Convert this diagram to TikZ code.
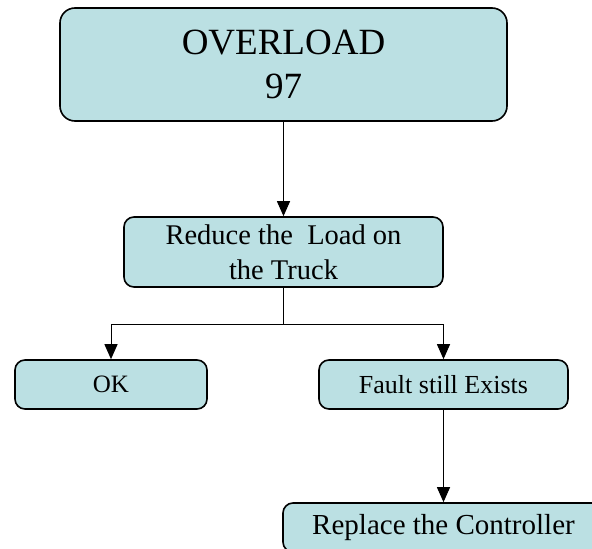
\documentclass[tikz,border=0pt]{standalone}
\usepackage{fontspec}
\setmainfont{Liberation Serif}
\usetikzlibrary{arrows.meta}
\definecolor{boxfill}{RGB}{187,224,227}
\begin{document}
\begin{tikzpicture}[x=1pt,y=-1pt,
  box/.style={draw=black, line width=1.6pt, fill=boxfill, rounded corners=10pt,
    inner sep=0pt, align=center, text=black},
  conn/.style={line width=1pt, -{Triangle[length=15pt,width=13pt]}},
  wire/.style={line width=1pt}]
\clip (0,0) rectangle (592,549);
\fill[white] (0,0) rectangle (592,549);
\node[box, rounded corners=15pt, minimum width=447pt, minimum height=113pt,
  font=\fontsize{37}{44}\selectfont] (over) at (283.5,64.5) {OVERLOAD\\97};
\node[box, minimum width=319pt, minimum height=70pt,
  font=\fontsize{28.5}{35}\selectfont] (reduce) at (283.5,252) {Reduce the \ Load on\\the Truck};
\node[box, minimum width=192pt, minimum height=49pt,
  font=\fontsize{25}{30}\selectfont] (ok) at (111,384.5) {OK};
\node[box, minimum width=249pt, minimum height=49pt,
  font=\fontsize{26}{31}\selectfont] (fault) at (443.5,384.5) {Fault still Exists};
\node[box, minimum width=321pt, minimum height=49pt,
  font=\fontsize{29}{35}\selectfont] (replace) at (443.5,527.5) {Replace the Controller};
\draw[conn] (over.south) -- (reduce.north);
\draw[wire] (reduce.south) -- ++(0,37) coordinate (junc);
\draw[conn] (junc) -| (ok.north);
\draw[conn] (junc) -| (fault.north);
\draw[conn] (fault.south) -- (replace.north);
\end{tikzpicture}
\end{document}
